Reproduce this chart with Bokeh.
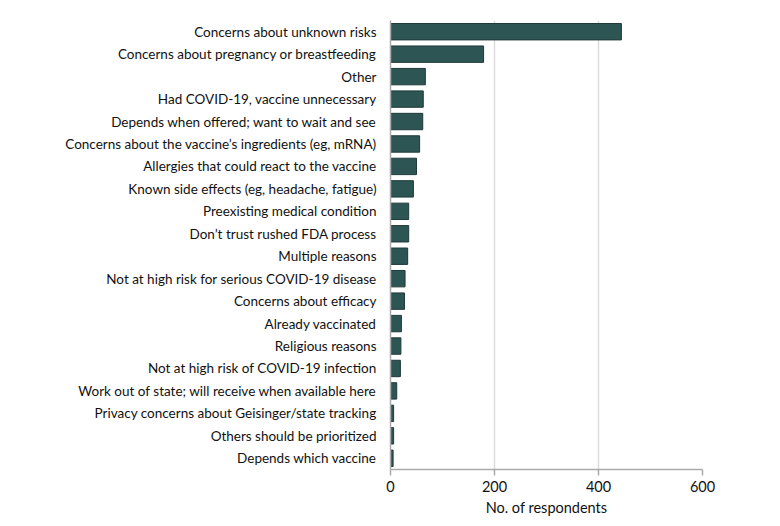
from bokeh.plotting import figure
from bokeh.models import Range1d, FixedTicker, ColumnDataSource
from bokeh.embed import file_html
from bokeh.resources import INLINE

reasons = [
    "Concerns about unknown risks",
    "Concerns about pregnancy or breastfeeding",
    "Other",
    "Had COVID-19, vaccine unnecessary",
    "Depends when offered; want to wait and see",
    "Concerns about the vaccine\u2019s ingredients (eg, mRNA)",
    "Allergies that could react to the vaccine",
    "Known side effects (eg, headache, fatigue)",
    "Preexisting medical condition",
    "Don\u2019t trust rushed FDA process",
    "Multiple reasons",
    "Not at high risk for serious COVID-19 disease",
    "Concerns about efficacy",
    "Already vaccinated",
    "Religious reasons",
    "Not at high risk of COVID-19 infection",
    "Work out of state; will receive when available here",
    "Privacy concerns about Geisinger/state tracking",
    "Others should be prioritized",
    "Depends which vaccine",
]
respondents = [444, 179, 67, 63, 62, 56, 50, 44, 35, 35, 33, 28, 27, 21, 20, 19, 12, 6, 6, 5]
x_ticks = [0, 200, 400, 600]

FONT = "Lato"
TEXT_COLOR = "#111111"

src = ColumnDataSource(dict(reason=reasons, n=respondents))

p = figure(
    width=764, height=518,
    y_range=list(reversed(reasons)),
    x_range=Range1d(0, 600),
    output_backend="svg", toolbar_location=None,
    min_border_left=390, min_border_right=62,
    min_border_top=20, min_border_bottom=48,
)
p.hbar(y="reason", right="n", left=0, height=0.73, source=src,
       fill_color="#2c5553", line_color="#1e3a38", line_width=1)

p.outline_line_color = None
p.ygrid.grid_line_color = None
p.xgrid.grid_line_color = "#dcdcdc"
p.xgrid.grid_line_width = 1.5
p.xgrid.ticker = FixedTicker(ticks=[200, 400, 600])

p.xaxis.ticker = FixedTicker(ticks=x_ticks)
p.xaxis.minor_tick_line_color = None
p.xaxis.major_tick_in = 0
p.xaxis.major_tick_out = 6
p.xaxis.major_tick_line_color = "#aaaaaa"
p.xaxis.major_tick_line_width = 1.5
p.xaxis.axis_line_color = "#aaaaaa"
p.xaxis.axis_line_width = 1.5
p.xaxis.major_label_text_font = FONT
p.xaxis.major_label_text_font_size = "14.5px"
p.xaxis.major_label_text_color = TEXT_COLOR
p.xaxis.axis_label = "No. of respondents"
p.xaxis.axis_label_text_font = FONT
p.xaxis.axis_label_text_font_size = "14.5px"
p.xaxis.axis_label_text_font_style = "normal"
p.xaxis.axis_label_text_color = TEXT_COLOR
p.xaxis.axis_label_standoff = 4

p.yaxis.major_tick_line_color = None
p.yaxis.minor_tick_line_color = None
p.yaxis.axis_line_color = "#aaaaaa"
p.yaxis.axis_line_width = 1.5
p.yaxis.major_label_text_font = FONT
p.yaxis.major_label_text_font_size = "13.5px"
p.yaxis.major_label_text_color = TEXT_COLOR
p.yaxis.major_label_standoff = 8

open("out.html", "w").write(file_html(p, INLINE))
